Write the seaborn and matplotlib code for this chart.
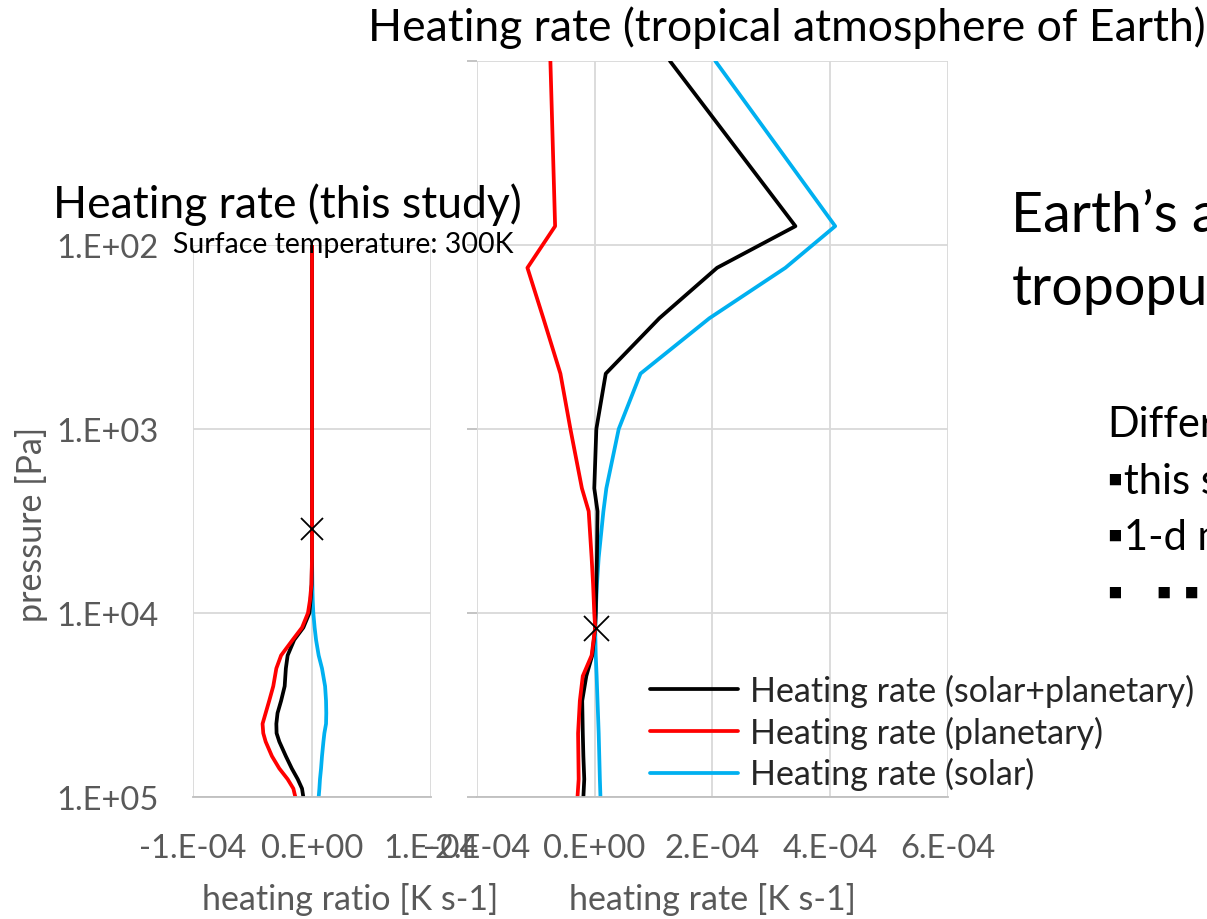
import numpy as np
import pandas as pd
import matplotlib
matplotlib.use('Agg')
import matplotlib.pyplot as plt
import seaborn as sns

# left panel: this study, x in 1e-5 K/s
p_left = [100, 200, 500, 1000, 2000, 3500, 5000, 7000, 8500, 10000, 12000, 14000, 17000,
          20000, 25000, 30000, 35000, 40000, 45000, 50000, 60000, 70000, 80000, 90000, 100000]
left_total = [0, 0, 0, 0, 0, 0, 0, -0.03, -0.12, -0.22, -0.73, -1.5, -2.05,
              -2.2, -2.3, -2.6, -2.9, -3.0, -2.98, -2.75, -2.2, -1.7, -1.2, -0.84, -0.73]
left_planet = [0, 0, 0, 0, 0, 0, 0, -0.05, -0.17, -0.34, -0.84, -1.63, -2.6,
               -3.0, -3.26, -3.6, -3.9, -4.16, -4.1, -3.9, -3.37, -2.75, -2.05, -1.57, -1.4]
left_solar = [0, 0, 0, 0, 0, 0, 0, 0.03, 0.06, 0.11, 0.22, 0.34, 0.56,
              0.84, 1.1, 1.18, 1.2, 1.18, 1.04, 0.96, 0.84, 0.76, 0.67, 0.62, 0.56]
left_tropopause = (0.0, 3500)

# right panel: tropical atmosphere, x in 1e-4 K/s
p_right = [10, 79, 133, 250, 500, 1000, 2100, 2800, 5000, 7000, 10000, 12000, 17000,
           22000, 30000, 45000, 60000, 80000, 100000]
right_total = [1.28, 3.41, 2.08, 1.10, 0.19, 0.03, -0.005, 0.05, 0.04, 0.03, 0.02, 0.01, -0.04,
               -0.14, -0.21, -0.20, -0.19, -0.175, -0.19]
right_planet = [-0.75, -0.67, -1.14, -0.87, -0.58, -0.41, -0.215, -0.10, -0.05, -0.025, -0.005, 0.01, -0.05,
                -0.20, -0.25, -0.28, -0.275, -0.27, -0.29]
right_solar = [2.05, 4.085, 3.24, 1.95, 0.78, 0.41, 0.20, 0.15, 0.07, 0.04, 0.02, 0.01, 0.02,
               0.035, 0.05, 0.07, 0.08, 0.09, 0.10]
right_tropopause = (0.03, 12000)

series_names = ['Heating rate (solar+planetary)', 'Heating rate (planetary)', 'Heating rate (solar)']
colors = ['#000000', '#ff0000', '#00b0f0']

left_xticks = [-1e-4, 0, 1e-4]
left_xlabels = ['-1.E-04', '0.E+00', '1.E-04']
right_xticks = [-2e-4, 0, 2e-4, 4e-4, 6e-4]
right_xlabels = ['-2.E-04', '0.E+00', '2.E-04', '4.E-04', '6.E-04']
yticks = [1e5, 1e4, 1e3, 1e2]
ylabels = ['1.E+05', '1.E+04', '1.E+03', '1.E+02']

sns.set_theme(style='white')
plt.rcParams['font.family'] = ['Lato', 'DejaVu Sans']

grey = '#595959'
gridc = '#d9d9d9'
tick_fs = 23.5

fig = plt.figure(figsize=(12.07, 9.2), dpi=100)
ax1 = fig.add_axes([0.160, 0.1326, 0.197, 0.600])
ax2 = fig.add_axes([0.395, 0.1326, 0.3904, 0.800])


def make_df(p, vals, scale):
    rows = []
    for name, v in zip(series_names, vals):
        for pp, vv in zip(p, v):
            rows.append({'p': pp, 'x': vv * scale, 'series': name})
    return pd.DataFrame(rows)


df_left = make_df(p_left, [left_total, left_planet, left_solar], 1e-5)
df_right = make_df(p_right, [right_total, right_planet, right_solar], 1e-4)

# drawing order: solar, then total, then planetary on top
draw_order = [2, 0, 1]
for ax, df in [(ax1, df_left), (ax2, df_right)]:
    for i in draw_order:
        sub = df[df['series'] == series_names[i]]
        sns.lineplot(data=sub, x='x', y='p', sort=False, estimator=None, color=colors[i],
                     linewidth=2.7, ax=ax, label=series_names[i])

ax1.plot(left_tropopause[0], left_tropopause[1], marker='x', color='black', markersize=16,
         markeredgewidth=1.3, linestyle='none')
ax2.plot(right_tropopause[0] * 1e-4, right_tropopause[1], marker='x', color='black', markersize=18,
         markeredgewidth=1.3, linestyle='none')

for ax in (ax1, ax2):
    ax.set_yscale('log')
    ax.grid(True, color=gridc, linewidth=1.3)
    ax.set_axisbelow(True)
    for s in ['top', 'right', 'left']:
        ax.spines[s].set_visible(False)
    ax.spines['bottom'].set_color('#bfbfbf')
    ax.spines['bottom'].set_linewidth(1.3)
    ax.set_xlabel('')
    ax.set_ylabel('')
    ax.minorticks_off()

ax1.set_ylim(1e5, 1e2)
ax2.set_ylim(1e5, 1e1)
ax1.set_xlim(-1e-4, 1e-4)
ax2.set_xlim(-2e-4, 6e-4)

ax1.set_xticks(left_xticks, left_xlabels)
ax2.set_xticks(right_xticks, right_xlabels)
ax1.set_yticks(yticks, ylabels)
ax2.set_yticks([1e1, 1e2, 1e3, 1e4, 1e5], [''] * 5)

ax1.tick_params(axis='x', labelsize=tick_fs, labelcolor=grey, length=0, pad=26)
ax2.tick_params(axis='x', labelsize=tick_fs, labelcolor=grey, length=0, pad=26)
ax1.tick_params(axis='y', labelsize=tick_fs, labelcolor=grey, length=0, pad=25)
ax2.tick_params(axis='y', length=7, color='#bfbfbf', width=1.3, left=True, direction='out')

ax1.get_legend().remove()
handles, labels = ax2.get_legend_handles_labels()
order = [labels.index(n) for n in series_names]
ax2.legend([handles[i] for i in order], series_names, loc='upper left',
           bbox_to_anchor=(0.527, 0.281), bbox_transform=fig.transFigure,
           frameon=False, fontsize=24.5, handlelength=2.6, handletextpad=0.35,
           labelspacing=0.25, borderaxespad=0)

fig.text(0.29, 0.022, 'heating ratio [K s-1]', color=grey, fontsize=24.5, ha='center', va='center')
fig.text(0.59, 0.022, 'heating rate [K s-1]', color=grey, fontsize=24.5, ha='center', va='center')
fig.text(0.026, 0.43, 'pressure [Pa]', color=grey, fontsize=24.5, rotation=90, ha='center', va='center')

fig.text(0.652, 0.970, 'Heating rate (tropical atmosphere of Earth)', color='black', fontsize=32,
         ha='center', va='center')
fig.text(0.044, 0.777, 'Heating rate (this study)', color='black', fontsize=32, ha='left', va='center')
fig.text(0.143, 0.734, 'Surface temperature: 300K', color='black', fontsize=20.5, ha='left', va='center')
fig.text(0.838, 0.766, 'Earth\u2019s atmosphere', color='black', fontsize=40, ha='left', va='center')
fig.text(0.838, 0.685, 'tropopuase', color='black', fontsize=40, ha='left', va='center')
fig.text(0.917, 0.538, 'Differences', color='black', fontsize=30, ha='left', va='center')
fig.text(0.917, 0.476, '\u25aathis study', color='black', fontsize=30, ha='left', va='center')
fig.text(0.917, 0.415, '\u25aa1-d model', color='black', fontsize=30, ha='left', va='center')
fig.text(0.917, 0.353, '\u25aa   \u25aa \u25aa', color='black', fontsize=30, ha='left', va='center')

fig.savefig('out.png', dpi=100)
